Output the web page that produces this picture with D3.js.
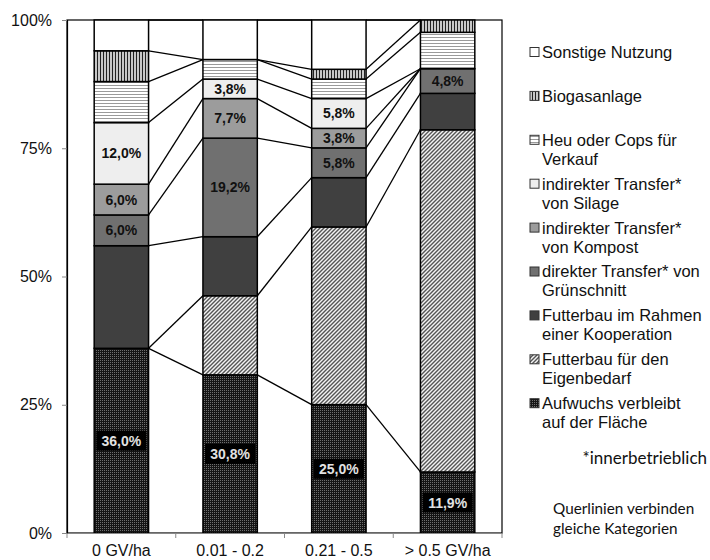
<!DOCTYPE html>
<html>
<head>
<meta charset="utf-8">
<script src="https://cdn.jsdelivr.net/npm/d3@7"></script>
<style>
  body { margin: 0; background: #fff; }
  svg text { font-family: "Liberation Sans", Arial, sans-serif; }
</style>
</head>
<body>
<svg id="chart" width="710" height="560"></svg>
<script>
// categories (x axis)
const categories = ["0 GV/ha", "0.01 - 0.2", "0.21 - 0.5", "> 0.5 GV/ha"];

// series values in %, stacked from bottom to top
const aufwuchs    = [36.0, 30.8, 25.0, 11.9];
const eigenbedarf = [0, 15.4, 34.6, 66.7];
const kooperation = [20.0, 11.5, 9.6, 7.1];
const direkt      = [6.0, 19.2, 5.8, 4.8];
const kompost     = [6.0, 7.7, 3.8, 0];
const silage      = [12.0, 3.8, 5.8, 0];
const heu         = [8.0, 3.8, 3.8, 7.1];
const biogas      = [6.0, 0, 1.9, 2.4];
const sonstige    = [6.0, 7.7, 9.6, 0];

// legend names (line broken as in the original)
const seriesNames = [
  ["Aufwuchs verbleibt", "auf der Fläche"],
  ["Futterbau für den", "Eigenbedarf"],
  ["Futterbau im Rahmen", "einer Kooperation"],
  ["direkter Transfer* von", "Grünschnitt"],
  ["indirekter Transfer*", "von Kompost"],
  ["indirekter Transfer*", "von Silage"],
  ["Heu oder Cops für", "Verkauf"],
  ["Biogasanlage"],
  ["Sonstige Nutzung"]
];
// which series carry value labels
const labelled = [true, false, false, true, true, true, false, false, false];

const yTicks = [0, 0.25, 0.5, 0.75, 1];
const footnote = "*innerbetrieblich";
const note = ["Querlinien verbinden", "gleiche Kategorien"];

function init() {
    const svg = d3.select("#chart");
    const left = 67, right = 502, top = 20, bottom = 533;

    const values = [aufwuchs, eigenbedarf, kooperation, direkt, kompost, silage, heu, biogas, sonstige];
    const fills = ["url(#p-dots)", "url(#p-hatch)", "#404040", "#707070", "#9c9c9c",
                   "#eeeeee", "url(#p-hor)", "url(#p-vert)", "#ffffff"];

    // patterns
    const defs = svg.append("defs");
    const pDots = defs.append("pattern").attr("id", "p-dots")
        .attr("patternUnits", "userSpaceOnUse").attr("width", 2).attr("height", 2);
    pDots.append("rect").attr("width", 2).attr("height", 2).attr("fill", "#141414");
    pDots.append("rect").attr("width", 1).attr("height", 1).attr("fill", "#6e6e6e");

    const pHatch = defs.append("pattern").attr("id", "p-hatch")
        .attr("patternUnits", "userSpaceOnUse").attr("width", 4).attr("height", 4);
    pHatch.append("rect").attr("width", 4).attr("height", 4).attr("fill", "#f4f4f4");
    pHatch.append("path").attr("d", "M-1,1 l2,-2 M0,4 l4,-4 M3,5 l2,-2")
        .attr("stroke", "#555").attr("stroke-width", 1.4);

    const pVert = defs.append("pattern").attr("id", "p-vert")
        .attr("patternUnits", "userSpaceOnUse").attr("width", 3).attr("height", 3);
    pVert.append("rect").attr("width", 3).attr("height", 3).attr("fill", "#fff");
    pVert.append("line").attr("x1", 1.5).attr("x2", 1.5).attr("y1", 0).attr("y2", 3)
        .attr("stroke", "#222").attr("stroke-width", 1.5);

    const pHor = defs.append("pattern").attr("id", "p-hor")
        .attr("patternUnits", "userSpaceOnUse").attr("width", 3).attr("height", 3);
    pHor.append("rect").attr("width", 3).attr("height", 3).attr("fill", "#fff");
    pHor.append("line").attr("x1", 0).attr("x2", 3).attr("y1", 1.5).attr("y2", 1.5)
        .attr("stroke", "#9a9a9a").attr("stroke-width", 1);

    // scales
    const x = d3.scaleBand().domain(categories).range([left, right])
        .paddingInner(0.5).paddingOuter(0.25);
    const y = d3.scaleLinear().domain([0, 1]).range([bottom, top]);

    // stacked (normalised to 100%)
    const rows = categories.map((c, i) => {
        const r = { cat: c };
        values.forEach((v, k) => r["s" + k] = v[i]);
        return r;
    });
    const keys = values.map((v, k) => "s" + k);
    const stack = d3.stack().keys(keys).offset(d3.stackOffsetExpand)(rows);

    // plot frame
    svg.append("rect").attr("x", left).attr("y", top)
        .attr("width", right - left).attr("height", bottom - top)
        .attr("fill", "none").attr("stroke", "#000").attr("stroke-width", 1.2);

    // series lines connecting equal categories
    stack.forEach(layer => {
        for (let i = 0; i < categories.length - 1; i++) {
            svg.append("line")
                .attr("x1", x(categories[i]) + x.bandwidth())
                .attr("x2", x(categories[i + 1]))
                .attr("y1", y(layer[i][1]))
                .attr("y2", y(layer[i + 1][1]))
                .attr("stroke", "#000").attr("stroke-width", 1.3);
        }
    });

    // bars
    stack.forEach((layer, k) => {
        svg.append("g").selectAll("rect").data(layer).enter()
            .append("rect")
            .attr("x", d => x(d.data.cat))
            .attr("width", x.bandwidth())
            .attr("y", d => y(d[1]))
            .attr("height", d => y(d[0]) - y(d[1]))
            .attr("fill", fills[k])
            .attr("stroke", "#000")
            .attr("stroke-width", d => (d[1] - d[0]) > 0 ? 1.5 : 0);
    });

    // value labels
    const fmt = v => v.toFixed(1).replace(".", ",") + "%";
    stack.forEach((layer, k) => {
        if (!labelled[k]) return;
        layer.forEach((d, i) => {
            const v = values[k][i];
            if (!v) return;
            const cx = x(d.data.cat) + x.bandwidth() / 2;
            const cy = (y(d[0]) + y(d[1])) / 2;
            if (k === 0) {
                svg.append("rect").attr("x", cx - 25).attr("y", cy - 10)
                    .attr("width", 50).attr("height", 20).attr("fill", "#000");
            }
            svg.append("text")
                .attr("x", cx).attr("y", cy)
                .attr("dy", "0.36em")
                .attr("text-anchor", "middle")
                .attr("font-size", 14).attr("font-weight", "bold")
                .attr("fill", k === 0 ? "#e2e2e2" : "#111")
                .text(fmt(v));
        });
    });

    // y axis
    const yAxis = d3.axisLeft(y).tickValues(yTicks).tickFormat(d3.format(".0%"))
        .tickSize(5).tickPadding(10);
    const gy = svg.append("g").attr("transform", `translate(${left},0)`).call(yAxis);
    gy.select(".domain").attr("stroke", "#000").attr("stroke-width", 1.2);
    gy.selectAll(".tick line").attr("stroke", "#888");
    gy.selectAll("text").attr("font-size", 16).attr("fill", "#111")
        .style("font-family", "'Liberation Sans', Arial, sans-serif");

    // x axis
    const xAxis = d3.axisBottom(x).tickSize(0).tickPadding(12);
    const gx = svg.append("g").attr("transform", `translate(0,${bottom})`).call(xAxis);
    gx.select(".domain").attr("stroke", "#888").attr("stroke-width", 1.2);
    gx.selectAll("text").attr("font-size", 16).attr("fill", "#111")
        .style("font-family", "'Liberation Sans', Arial, sans-serif");
    d3.range(categories.length + 1).forEach(i => {
        const bx = x.range()[0] + i * x.step();
        svg.append("line").attr("x1", bx).attr("x2", bx)
            .attr("y1", bottom).attr("y2", bottom + 5)
            .attr("stroke", "#888");
    });

    // legend
    const legend = svg.append("g");
    const order = d3.range(seriesNames.length).reverse();
    order.forEach((k, j) => {
        const ly = 52 + j * 43.9;
        legend.append("rect").attr("x", 530).attr("y", ly - 4.5)
            .attr("width", 9).attr("height", 9)
            .attr("fill", fills[k]).attr("stroke", "#333").attr("stroke-width", 1);
        seriesNames[k].forEach((line, li) => {
            legend.append("text").attr("x", 542).attr("y", ly + li * 19)
                .attr("dy", "0.36em").attr("font-size", 16.5).attr("fill", "#111")
                .text(line);
        });
    });

    svg.append("text").attr("x", 707).attr("y", 458).attr("dy", "0.36em")
        .attr("text-anchor", "end").attr("font-size", 17).attr("fill", "#111")
        .style("font-family", "Lato, sans-serif")
        .text(footnote);
    note.forEach((line, i) => {
        svg.append("text").attr("x", 553).attr("y", 508 + i * 20).attr("dy", "0.36em")
            .attr("font-size", 15.3).attr("fill", "#111")
            .style("font-family", "Lato, sans-serif")
            .text(line);
    });
}

window.onload = init;
</script>
</body>
</html>
